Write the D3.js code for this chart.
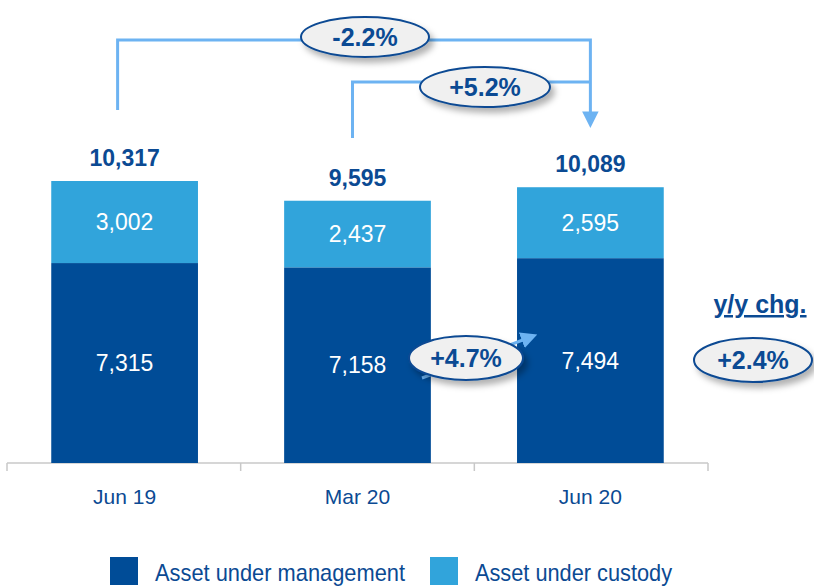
<!DOCTYPE html>
<html>
<head>
<meta charset="utf-8">
<script src="https://cdn.jsdelivr.net/npm/d3@7"></script>
<style>
  html, body { margin: 0; padding: 0; background: #fff; }
  svg { display: block; font-family: "Liberation Sans Narrow", "Arial Narrow", "Liberation Sans", sans-serif; }
</style>
</head>
<body>
<svg id="chart" width="814" height="586"></svg>
<script>
// data
const categories = ["Jun 19", "Mar 20", "Jun 20"];
const aum = [7315, 7158, 7494];
const auc = [3002, 2437, 2595];
const totals = [10317, 9595, 10089];
const seriesNames = ["Asset under management", "Asset under custody"];
const changes = ["-2.2%", "+5.2%", "+4.7%", "+2.4%"];

const darkBlue = "#004C97", lightBlue = "#31A4DB", textBlue = "#0B4A93", lineBlue = "#6DB3F2";

const svg = d3.select("#chart");
const defs = svg.append("defs");

const shadow = defs.append("filter").attr("id", "shadow").attr("x", "-20%").attr("y", "-30%").attr("width", "150%").attr("height", "180%");
shadow.append("feDropShadow").attr("dx", 4).attr("dy", 5).attr("stdDeviation", 3).attr("flood-color", "#000").attr("flood-opacity", 0.3);

defs.append("marker").attr("id", "arrow").attr("viewBox", "0 0 10 10")
  .attr("refX", 4).attr("refY", 5).attr("markerWidth", 5.5).attr("markerHeight", 5.5)
  .attr("orient", "auto").attr("markerUnits", "strokeWidth")
  .append("path").attr("d", "M0,0 L10,5 L0,10 Z").attr("fill", lineBlue);

const x = d3.scaleBand().domain(categories).range([7, 708]).paddingInner(0.37).paddingOuter(0.19);
const y = d3.scaleLinear().domain([0, 10317]).range([463, 181]);

// axis
const ax = svg.append("g");
ax.append("line").attr("x1", 7).attr("x2", 708).attr("y1", 463).attr("y2", 463).attr("stroke", "#c8c8c8").attr("stroke-width", 1.5);
const step = 701 / categories.length;
d3.range(categories.length + 1).forEach(i => {
  ax.append("line").attr("x1", 7 + i * step).attr("x2", 7 + i * step)
    .attr("y1", 463).attr("y2", 471).attr("stroke", "#c8c8c8").attr("stroke-width", 1.5);
});

const g = svg.append("g");
categories.forEach((c, i) => {
  const bx = x(c), bw = x.bandwidth();
  g.append("rect").attr("x", bx).attr("width", bw).attr("y", y(aum[i])).attr("height", y(0) - y(aum[i])).attr("fill", darkBlue);
  g.append("rect").attr("x", bx).attr("width", bw).attr("y", y(aum[i] + auc[i])).attr("height", y(aum[i]) - y(aum[i] + auc[i])).attr("fill", lightBlue);
  g.append("text").attr("x", bx + bw / 2).attr("y", (y(0) + y(aum[i])) / 2 + 8)
    .attr("text-anchor", "middle").attr("fill", "#fff").attr("font-size", 23).text(d3.format(",")(aum[i]));
  g.append("text").attr("x", bx + bw / 2).attr("y", (y(aum[i]) + y(aum[i] + auc[i])) / 2 + 8)
    .attr("text-anchor", "middle").attr("fill", "#fff").attr("font-size", 23).text(d3.format(",")(auc[i]));
  g.append("text").attr("x", bx + bw / 2).attr("y", y(totals[i]) - 15)
    .attr("text-anchor", "middle").attr("fill", textBlue).attr("font-size", 23).attr("font-weight", "bold").text(d3.format(",")(totals[i]));
  g.append("text").attr("x", bx + bw / 2).attr("y", 504)
    .attr("text-anchor", "middle").attr("fill", textBlue).attr("font-size", 21).text(c);
});

// bracket connectors
const cx = i => x(categories[i]) + x.bandwidth() / 2;
const conn = svg.append("g").attr("fill", "none").attr("stroke", lineBlue).attr("stroke-width", 3);
conn.append("path").attr("d", `M${cx(0) - 7},110 V40 H${cx(2)} V118`).attr("marker-end", "url(#arrow)");
conn.append("path").attr("d", `M${cx(1) - 5},138 V82 H${cx(2)}`);
conn.append("path").attr("d", `M422,378 L528,338`).attr("marker-end", "url(#arrow)");

function bubble(cxp, cyp, rx, ry, label) {
  const b = svg.append("g");
  b.append("ellipse").attr("cx", cxp).attr("cy", cyp).attr("rx", rx).attr("ry", ry)
    .attr("fill", "#F0F0F0").attr("stroke", textBlue).attr("stroke-width", 2).attr("filter", "url(#shadow)");
  b.append("text").attr("x", cxp).attr("y", cyp + 9).attr("text-anchor", "middle")
    .attr("fill", textBlue).attr("font-size", 25).attr("font-weight", "bold").text(label);
}
bubble(365, 37, 64, 20, changes[0]);
bubble(485, 87, 65, 20, changes[1]);
bubble(466, 358, 57, 22, changes[2]);
bubble(753, 360, 59, 22, changes[3]);

// y/y label
svg.append("text").attr("x", 760).attr("y", 313).attr("text-anchor", "middle")
  .attr("fill", textBlue).attr("font-size", 25).attr("font-weight", "bold")
  .attr("text-decoration", "underline").text("y/y chg.");

// legend
const legendX = [110, 430];
const legendW = [250, 197];
seriesNames.forEach((n, i) => {
  svg.append("rect").attr("x", legendX[i]).attr("y", 557).attr("width", 28).attr("height", 28)
    .attr("fill", i === 0 ? darkBlue : lightBlue);
  svg.append("text").attr("x", legendX[i] + 45).attr("y", 581).attr("fill", textBlue)
    .attr("font-size", 24).attr("textLength", legendW[i]).attr("lengthAdjust", "spacingAndGlyphs").text(n);
});
</script>
</body>
</html>
